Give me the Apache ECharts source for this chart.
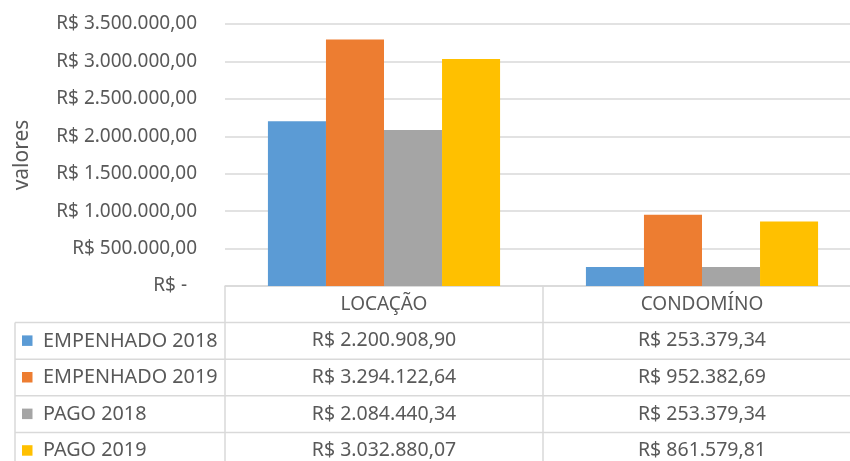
<!DOCTYPE html>
<html>
<head>
<meta charset="utf-8">
<script src="https://cdn.jsdelivr.net/npm/echarts@6/dist/echarts.min.js"></script>
<style>
html,body{margin:0;padding:0;background:#fff;}
#chart{width:850px;height:461px;}
</style>
</head>
<body>
<div id="chart"></div>
<script>
const categories = ['LOCAÇÃO', 'CONDOMÍNO'];
const seriesNames = ['EMPENHADO 2018', 'EMPENHADO 2019', 'PAGO 2018', 'PAGO 2019'];
const empenhado2018 = [2200908.90, 253379.34];
const empenhado2019 = [3294122.64, 952382.69];
const pago2018 = [2084440.34, 253379.34];
const pago2019 = [3032880.07, 861579.81];
const seriesValues = [empenhado2018, empenhado2019, pago2018, pago2019];
const colors = ['#5B9BD5', '#ED7D31', '#A5A5A5', '#FFC000'];
const yTicks = [0, 500000, 1000000, 1500000, 2000000, 2500000, 3000000, 3500000];

const FONT = '"Noto Sans", "Open Sans", sans-serif';
const TEXT = '#595959';
const LINE = '#d9d9d9';

function fmtNum(v) {
  const fixed = v.toFixed(2);
  const parts = fixed.split('.');
  const intPart = parts[0].replace(/\B(?=(\d{3})+(?!\d))/g, '.');
  return intPart + ',' + parts[1];
}

const chart = echarts.init(document.getElementById('chart'), null, {renderer: 'canvas'});

chart.setOption({
  animation: false,
  backgroundColor: '#ffffff',
  grid: {left: 225, width: 636, top: 24, height: 262, containLabel: false, outerBoundsMode: 'none'},
  xAxis: {
    type: 'category',
    data: categories,
    axisLine: {show: true, lineStyle: {color: LINE, width: 1.5}},
    axisTick: {show: false},
    axisLabel: {show: false},
    splitLine: {show: false}
  },
  yAxis: {
    type: 'value',
    min: yTicks[0],
    max: yTicks[yTicks.length - 1],
    interval: yTicks[1] - yTicks[0],
    name: 'valores',
    nameLocation: 'middle',
    nameRotate: 90,
    nameGap: 192,
    nameTextStyle: {color: TEXT, fontFamily: FONT, fontSize: 21},
    axisLine: {show: false},
    axisTick: {show: false},
    splitLine: {show: true, lineStyle: {color: LINE, width: 1.5}},
    axisLabel: {
      margin: 28,
      color: TEXT,
      fontFamily: FONT,
      fontSize: 19,
      formatter: function (v) {
        if (v === 0) return '{z|R$ -}';
        return 'R$ ' + fmtNum(v);
      },
      rich: {z: {color: TEXT, fontFamily: FONT, fontSize: 19, padding: [0, 10, 0, 0]}}
    }
  },
  series: seriesNames.map(function (name, i) {
    return {
      name: name,
      type: 'bar',
      data: seriesValues[i],
      barGap: '0%',
      barCategoryGap: '27%',
      itemStyle: {color: colors[i]}
    };
  })
});

// Data table under the chart, positioned from the axes
const rowH = 36.6;
const tableLeft = 15;
const y0 = chart.convertToPixel({yAxisIndex: 0}, 0);
const cx = categories.map(function (c) { return chart.convertToPixel({xAxisIndex: 0}, c); });
const band = cx[1] - cx[0];
const colEdges = [cx[0] - band / 2, cx[0] + band / 2, cx[1] + band / 2];
const nRows = seriesNames.length;
const yBottom = y0 + rowH * (nRows + 1);

const g = [];
function hline(x1, x2, y) {
  g.push({type: 'line', silent: true, shape: {x1: x1, y1: y, x2: x2, y2: y}, style: {stroke: LINE, lineWidth: 1.5}});
}
function vline(x, y1, y2) {
  g.push({type: 'line', silent: true, shape: {x1: x, y1: y1, x2: x, y2: y2}, style: {stroke: LINE, lineWidth: 1.5}});
}
for (let k = 1; k <= nRows + 1; k++) hline(tableLeft, colEdges[2], y0 + rowH * k);
vline(tableLeft, y0 + rowH, yBottom);
vline(colEdges[0], y0, yBottom);
vline(colEdges[1], y0, yBottom);

categories.forEach(function (c, i) {
  g.push({type: 'text', silent: true, x: cx[i], y: y0 + rowH / 2,
    style: {text: c, fill: TEXT, font: '19px ' + FONT, align: 'center', verticalAlign: 'middle'}});
});
seriesNames.forEach(function (name, r) {
  const yc = y0 + rowH * (r + 1.5);
  g.push({type: 'rect', silent: true, shape: {x: 22, y: yc - 5.5, width: 10.5, height: 10.5}, style: {fill: colors[r]}});
  g.push({type: 'text', silent: true, x: 43, y: yc,
    style: {text: name, fill: TEXT, font: '19.8px ' + FONT, align: 'left', verticalAlign: 'middle'}});
  seriesValues[r].forEach(function (v, i) {
    g.push({type: 'text', silent: true, x: cx[i], y: yc,
      style: {text: 'R$ ' + fmtNum(v), fill: TEXT, font: '19.5px ' + FONT, align: 'center', verticalAlign: 'middle'}});
  });
});

chart.setOption({graphic: g});
</script>
</body>
</html>
